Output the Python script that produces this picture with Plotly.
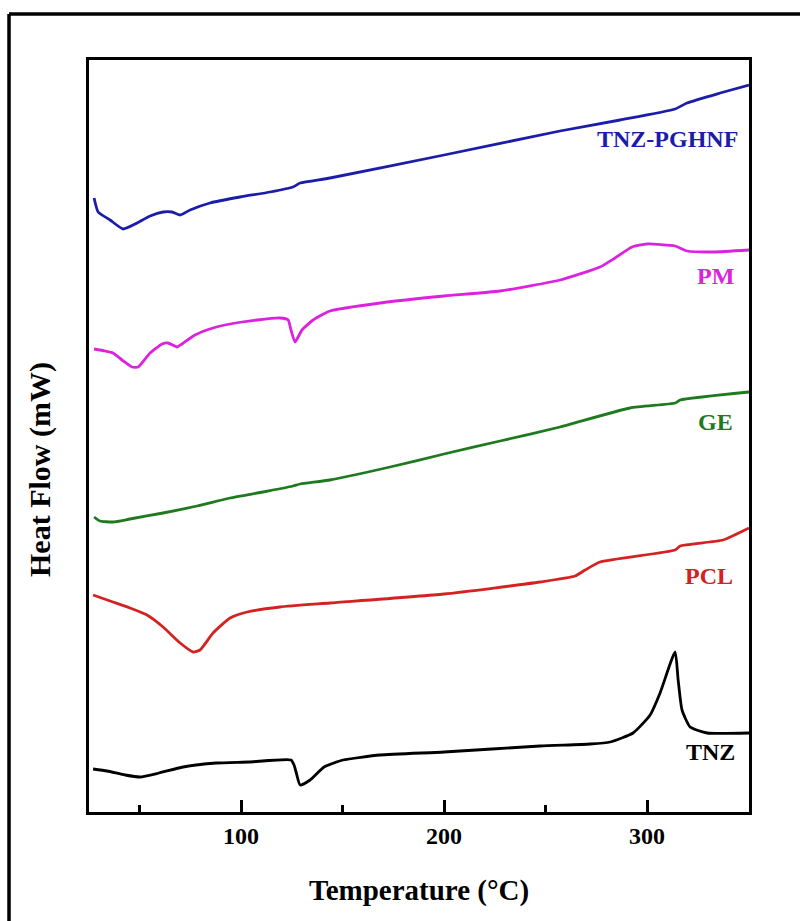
import plotly.graph_objects as go

# DSC thermograms: temperature (°C) vs. heat flow (mW, stacked offsets)
tnz_pghnf_t = [27.6, 29.6, 35.5, 41.9, 47.8, 55.2, 61.6, 66.0, 70.0, 74.9, 84.7, 99.5, 114.3,
               125.6, 129.1, 143.8, 200.0, 257.1, 286.7, 313.8, 319.7, 336.0, 350.2]
tnz_pghnf_hf = [61.4, 60.0, 59.2, 58.3, 58.8, 59.6, 60.0, 60.0, 59.7, 60.2, 60.9, 61.5, 62.0,
                62.5, 62.9, 63.4, 65.7, 68.1, 69.2, 70.3, 70.9, 71.9, 72.7]

pm_t = [27.6, 33.0, 36.9, 41.4, 46.3, 49.3, 55.2, 61.1, 64.0, 68.5, 70.9, 77.3, 86.2, 94.6,
        107.9, 119.2, 123.2, 124.6, 126.6, 130.0, 135.5, 143.8, 168.5, 200.0, 227.6, 257.1,
        276.8, 284.2, 292.6, 300.0, 313.8, 319.7, 332.5, 350.2]
pm_hf = [46.3, 46.1, 45.9, 45.2, 44.5, 44.5, 45.9, 46.8, 46.9, 46.5, 46.8, 47.7, 48.4, 48.8,
         49.2, 49.4, 49.2, 48.2, 47.0, 48.2, 49.2, 50.1, 50.9, 51.6, 52.1, 53.2,
         54.5, 55.4, 56.5, 56.8, 56.6, 56.1, 56.0, 56.2]

ge_t = [27.6, 30.5, 36.9, 45.3, 61.6, 78.3, 94.6, 110.8, 125.6, 129.1, 143.8, 173.4, 200.0,
        227.6, 257.1, 291.6, 313.8, 316.3, 350.2]
ge_hf = [29.5, 29.1, 29.0, 29.3, 29.9, 30.6, 31.4, 32.0, 32.6, 32.8, 33.2, 34.5, 35.8,
         37.1, 38.5, 40.4, 40.9, 41.2, 42.0]

pcl_t = [27.1, 36.9, 45.3, 53.7, 61.6, 70.0, 76.4, 79.8, 86.2, 94.6, 103.0, 119.2, 143.8,
         200.0, 247.3, 264.5, 269.5, 276.8, 313.8, 316.3, 337.4, 350.2]
pcl_hf = [21.7, 21.0, 20.4, 19.7, 18.5, 16.9, 16.0, 16.2, 17.9, 19.4, 20.0, 20.5, 20.9,
          21.8, 23.0, 23.6, 24.2, 25.0, 26.2, 26.6, 27.2, 28.4]

tnz_t = [27.1, 34.0, 42.9, 50.2, 59.6, 71.4, 87.7, 103.9, 124.6, 126.1, 127.1, 129.1, 134.0,
         140.9, 150.2, 168.5, 200.0, 247.3, 271.9, 281.8, 293.1, 301.5, 306.4, 313.8, 315.3,
         317.2, 321.2, 329.6, 350.2]
tnz_hf = [4.3, 4.1, 3.7, 3.5, 3.9, 4.5, 4.9, 5.0, 5.2, 4.7, 4.0, 2.7, 3.2,
          4.5, 5.2, 5.7, 6.0, 6.6, 6.8, 7.0, 7.9, 9.7, 11.9, 16.0, 13.2,
          10.2, 8.5, 7.9, 7.9]

x_ticks = [100, 200, 300]
x_minor_ticks = [50, 150, 250]

series = [
    ("TNZ-PGHNF", tnz_pghnf_t, tnz_pghnf_hf, "#1c1caa"),
    ("PM", pm_t, pm_hf, "#dd22dd"),
    ("GE", ge_t, ge_hf, "#1f7a1f"),
    ("PCL", pcl_t, pcl_hf, "#d42222"),
    ("TNZ", tnz_t, tnz_hf, "#000000"),
]

# label anchor (right edge x, centre y) for each curve
label_pos = {
    "TNZ-PGHNF": (346.0, 67.3),
    "PM": (344.0, 53.6),
    "GE": (343.5, 39.0),
    "PCL": (343.5, 23.6),
    "TNZ": (344.3, 6.0),
}

SERIF = "Liberation Serif"

fig = go.Figure()
for name, t, hf, color in series:
    fig.add_trace(go.Scatter(x=t, y=hf, mode="lines", name=name,
                             line=dict(color=color, width=2.8, shape="spline", smoothing=0.5),
                             showlegend=False))
    lx, ly = label_pos[name]
    fig.add_annotation(x=lx, y=ly, xref="x", yref="y", text=name, showarrow=False,
                       xanchor="right", yanchor="middle",
                       font=dict(family=SERIF, size=24, color=color, weight="bold"))

fig.update_xaxes(range=[25.1, 350.2], tickvals=x_ticks, ticks="inside", ticklen=12,
                 tickwidth=2.5, tickcolor="black", showline=True, linewidth=3,
                 linecolor="black", mirror=True, showgrid=False, zeroline=False,
                 tickfont=dict(family=SERIF, size=24, color="black", weight="bold"),
                 minor=dict(tickvals=x_minor_ticks, ticks="inside", ticklen=7,
                            tickwidth=2.5, tickcolor="black", showgrid=False))
fig.update_yaxes(range=[0, 75.2], showticklabels=False, ticks="", showline=True,
                 linewidth=3, linecolor="black", mirror=True, showgrid=False,
                 zeroline=False)

# axis titles
fig.add_annotation(x=0.5, y=-0.105, xref="paper", yref="paper", text="Temperature (°C)",
                   showarrow=False, xanchor="center", yanchor="middle",
                   font=dict(family=SERIF, size=29, color="black", weight="bold"))
fig.add_annotation(x=-0.074, y=0.455, xref="paper", yref="paper", text="Heat Flow (mW)",
                   showarrow=False, textangle=-90, xanchor="center", yanchor="middle",
                   font=dict(family=SERIF, size=30, color="black", weight="bold"))

# outer frame (left and top edges)
fig.add_shape(type="line", xref="paper", yref="paper", x0=-0.1212, x1=1.2, y0=1.0612,
              y1=1.0612, line=dict(color="black", width=3.5))
fig.add_shape(type="line", xref="paper", yref="paper", x0=-0.1212, x1=-0.1212, y0=-0.2,
              y1=1.0612, line=dict(color="black", width=3.5))

fig.update_layout(width=800, height=921, margin=dict(l=89, r=51, t=60, b=109),
                  plot_bgcolor="white", paper_bgcolor="white")

fig.write_html("out.html")
